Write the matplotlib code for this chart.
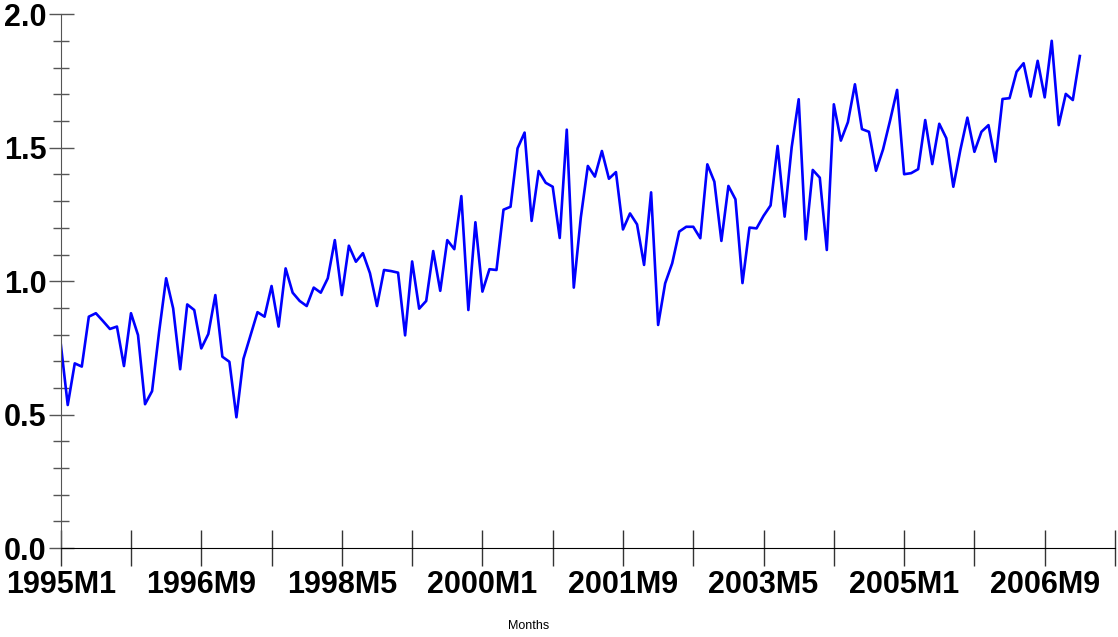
import matplotlib.pyplot as plt
import numpy as np

# monthly series, 1995M1 onwards
values = [
    0.767, 0.536, 0.692, 0.680, 0.867, 0.880, 0.851, 0.821, 0.830, 0.682,
    0.880, 0.798, 0.539, 0.588, 0.810, 1.011, 0.898, 0.670, 0.913, 0.892,
    0.748, 0.802, 0.948, 0.717, 0.698, 0.490, 0.709, 0.796, 0.884, 0.867,
    0.982, 0.830, 1.048, 0.957, 0.926, 0.907, 0.976, 0.957, 1.011, 1.154,
    0.948, 1.133, 1.073, 1.105, 1.030, 0.907, 1.042, 1.038, 1.032, 0.797,
    1.074, 0.897, 0.926, 1.113, 0.964, 1.154, 1.120, 1.319, 0.892, 1.221,
    0.961, 1.045, 1.042, 1.268, 1.279, 1.498, 1.557, 1.226, 1.413, 1.369,
    1.354, 1.162, 1.568, 0.976, 1.239, 1.432, 1.392, 1.488, 1.384, 1.409,
    1.194, 1.254, 1.213, 1.061, 1.333, 0.836, 0.992, 1.067, 1.186, 1.204,
    1.204, 1.161, 1.438, 1.373, 1.151, 1.357, 1.307, 0.993, 1.201, 1.198,
    1.245, 1.284, 1.507, 1.242, 1.502, 1.682, 1.157, 1.417, 1.388, 1.117,
    1.663, 1.527, 1.596, 1.738, 1.570, 1.560, 1.414, 1.494, 1.602, 1.717,
    1.401, 1.405, 1.420, 1.604, 1.439, 1.590, 1.536, 1.354, 1.492, 1.613,
    1.485, 1.560, 1.585, 1.448, 1.683, 1.686, 1.785, 1.817, 1.692, 1.826,
    1.689, 1.901, 1.585, 1.702, 1.679, 1.844,
]
tick_labels = ["1995M1", "1996M9", "1998M5", "2000M1",
               "2001M9", "2003M5", "2005M1", "2006M9"]
label_step = 20   # months between labelled ticks
n_months = 150    # axis length in months

plt.rcParams['font.family'] = ['Liberation Sans', 'DejaVu Sans']

fig = plt.figure(figsize=(11.18, 6.37), dpi=100)
ax = fig.add_axes([0.0543, 0.1397, 0.943, 0.8377])

months = np.arange(len(values))
ax.plot(months, values, color='#0000ff', linewidth=1.9)

ax.set_xlim(0, n_months)
ax.set_ylim(0, 2.0)

for side in ['top', 'right']:
    ax.spines[side].set_visible(False)
ax.spines['left'].set_color('#555555')
ax.spines['bottom'].set_color('black')

# x axis: labels every 20 months, plain ticks in between
ax.set_xticks(np.arange(len(tick_labels)) * label_step)
ax.set_xticklabels(tick_labels, fontsize=22, fontweight='bold')
ax.set_xticks(np.arange(label_step // 2, n_months + 1, label_step), minor=True)
ax.tick_params(axis='x', which='both', direction='inout', length=26,
               width=1, color='#333333', pad=3)

ax.set_yticks(np.arange(0, 2.01, 0.5))
ax.set_yticklabels(["%.1f" % v for v in np.arange(0, 2.01, 0.5)],
                   fontsize=22, fontweight='bold')
ax.set_yticks(np.arange(0, 2.01, 0.1), minor=True)
ax.tick_params(axis='y', which='major', direction='inout', length=18,
               width=1, color='#555555', pad=1)
ax.tick_params(axis='y', which='minor', direction='inout', length=11,
               width=1, color='#555555')

fig.text(0.473, 0.017, "Months", fontsize=9, ha='center', va='center')

plt.savefig("out.png", dpi=100)
